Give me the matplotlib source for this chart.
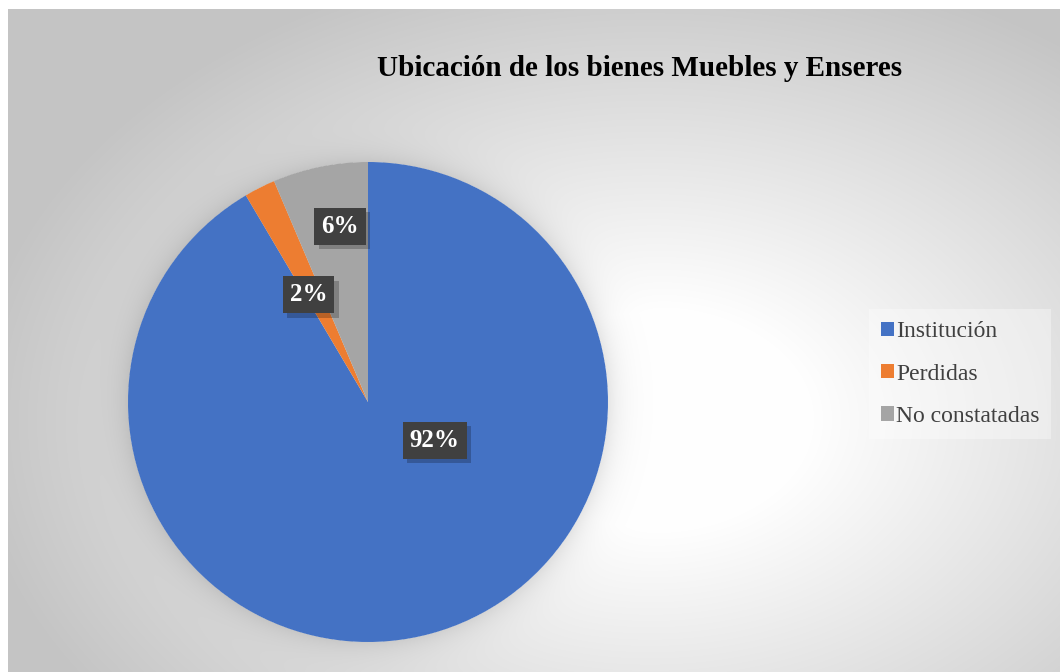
import numpy as np
import matplotlib
matplotlib.use('Agg')
import matplotlib.pyplot as plt
from matplotlib.patches import Patch
import matplotlib.patheffects as pe

# ---- data ----
title = 'Ubicación de los bienes Muebles y Enseres'
categories = ['Institución', 'Perdidas', 'No constatadas']
values = [91.5, 2.1, 6.4]
colors = ['#4472C4', '#ED7D31', '#A5A5A5']

# label placement style (radius fraction, angle override in degrees)
label_r = [0.32, 0.51, 0.74]
label_angle = [-30, 119, 99]

W, H = 1060, 672
fig = plt.figure(figsize=(W / 100, H / 100), dpi=100, facecolor='white')

# ---- background: radial gradient with soft pie shadow ----
bx0, by0 = 8, 9
bg_ax = fig.add_axes([bx0 / W, 0, (W - bx0) / W, (H - by0) / H])
bg_ax.set_axis_off()
ys, xs = np.mgrid[by0:H, bx0:W] + 0.5
cx, cy = 650, 420
d = np.sqrt(((xs - cx) / 620) ** 2 + ((ys - cy) / 430) ** 2)
t = np.clip((d - 0.25) / 0.85, 0, 1)
v = 1 - t * (1 - 0.77)
pcx, pcy, R = 368, 402, 240
r = np.hypot(xs - pcx, ys - pcy)
sh = np.where(r > R, 0.10 * np.exp(-(r - R) / 14), 0)
v = v * (1 - sh)
img = np.dstack([v, v, v])
bg_ax.imshow(img, extent=[0, 1, 0, 1], aspect='auto', origin='upper', interpolation='bilinear')
bg_ax.set_xlim(0, 1)
bg_ax.set_ylim(0, 1)

# ---- pie ----
ax = fig.add_axes([(pcx - R) / W, 1 - (pcy + R) / H, 2 * R / W, 2 * R / H])
ax.set_axis_off()
wedges, _ = ax.pie(values, colors=colors, startangle=90, counterclock=False,
                   radius=1, wedgeprops=dict(linewidth=0))
ax.set_xlim(-1, 1)
ax.set_ylim(-1, 1)
ax.set_aspect('equal')

total = sum(values)
for i, w in enumerate(wedges):
    mid = (w.theta1 + w.theta2) / 2
    ang = label_angle[i] if label_angle[i] is not None else mid
    x = label_r[i] * np.cos(np.deg2rad(ang))
    y = label_r[i] * np.sin(np.deg2rad(ang))
    pct = values[i] / total * 100
    txt = ax.text(x, y, f'{pct:.0f}%', ha='center', va='center',
                  color='white', fontsize=18, fontweight='bold',
                  family='Liberation Serif',
                  bbox=dict(boxstyle='square,pad=0.28', facecolor='#404040',
                            edgecolor='none'))
    txt.get_bbox_patch().set_path_effects(
        [pe.SimplePatchShadow(offset=(3, -3), alpha=0.22, shadow_rgbFace='black'),
         pe.Normal()])

# ---- title ----
fig.text(640 / W, 1 - 69 / H, title, ha='center', va='center',
         fontsize=21, fontweight='bold', family='Liberation Serif', color='black')

# ---- legend ----
handles = [Patch(facecolor=c, edgecolor='none') for c in colors]
leg = fig.legend(handles, categories, loc='center left',
                 bbox_to_anchor=(857 / W, 1 - 374 / H),
                 prop={'family': 'Liberation Serif', 'size': 17},
                 labelcolor='#404040', handlelength=0.55, handleheight=0.55,
                 handletextpad=0.1, labelspacing=0.9, borderpad=0.5,
                 frameon=True, fancybox=False, framealpha=0.35,
                 facecolor='white', edgecolor='none')

fig.savefig('out.png', dpi=100, facecolor='white')
